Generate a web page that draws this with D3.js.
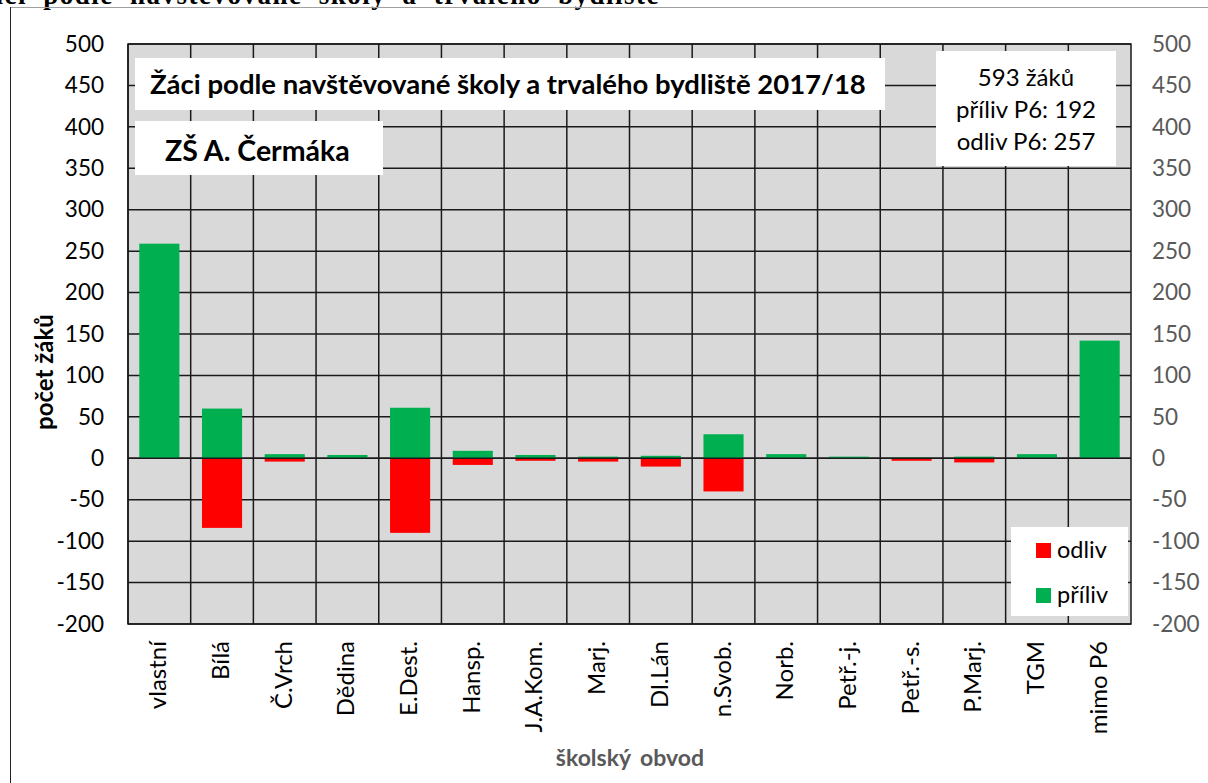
<!DOCTYPE html>
<html><head><meta charset="utf-8">
<script src="https://cdn.jsdelivr.net/npm/d3@7"></script>
<style>
html,body{margin:0;padding:0;background:#fff;}
svg{display:block;font-family:Lato,"Open Sans",sans-serif;}
</style></head>
<body>
<svg id="c" width="1208" height="783"></svg>
<script>
const categories = ["vlastní","Bílá","Č.Vrch","Dědina","E.Dest.","Hansp.","J.A.Kom.","Marj.","Dl.Lán","n.Svob.","Norb.","Petř.-j.","Petř.-s.","P.Marj.","TGM","mimo P6"];
const priliv = [259, 60, 5, 4, 61, 9, 4, 2, 3, 29, 5, 2, 1, 2, 5, 142];
const odliv  = [0, -84, -4, 0, -90, -8, -3, -4, -10, -40, 0, 0, -3, -5, 0, 0];
const yTicks = [500,450,400,350,300,250,200,150,100,50,0,-50,-100,-150,-200];
const seriesNames = ["odliv","příliv"];
const title = "Žáci podle navštěvované školy a trvalého bydliště 2017/18";
const subtitle = "ZŠ A. Čermáka";
const infoLines = ["593 žáků","příliv P6: 192","odliv P6: 257"];

const svg = d3.select("#c");
const L = 128, R = 1131, T = 44, B = 624;
const x = d3.scaleBand().domain(categories).range([L, R]).paddingInner(0.36).paddingOuter(0.18);
const y = d3.scaleLinear().domain([-200, 500]).range([B, T]);
const step = x.step();
const fmt = d => String(d).replace("\u2212", "-");

// page frame & cut-off heading
svg.append("text").attr("x", -30).attr("y", 4)
  .attr("font-family", "'Liberation Serif',serif").attr("font-weight", "bold")
  .attr("font-size", 27).attr("fill", "#000").attr("word-spacing", 8).attr("letter-spacing", 1.5)
  .text("Žáci podle navštěvované školy a trvalého bydliště");
svg.append("line").attr("x1", 10).attr("x2", 1208).attr("y1", 7.5).attr("y2", 7.5).attr("stroke", "#a0a0a0").attr("stroke-width", 1);
svg.append("line").attr("x1", 10.5).attr("x2", 10.5).attr("y1", 7).attr("y2", 783).attr("stroke", "#222").attr("stroke-width", 1);

// plot background
svg.append("rect").attr("x", L).attr("y", T).attr("width", R - L).attr("height", B - T).attr("fill", "#d9d9d9");

// horizontal grid
svg.append("g").selectAll("line").data(yTicks).join("line")
  .attr("x1", L).attr("x2", R).attr("y1", d => y(d)).attr("y2", d => y(d))
  .attr("stroke", "#1a1a1a").attr("stroke-width", 1.5);
// vertical grid at category boundaries
svg.append("g").selectAll("line").data(categories).join("line")
  .attr("x1", d => x(d) - (step - x.bandwidth()) / 2).attr("x2", d => x(d) - (step - x.bandwidth()) / 2)
  .attr("y1", T).attr("y2", B).attr("stroke", "#1a1a1a").attr("stroke-width", 1.5);
svg.append("rect").attr("x", L).attr("y", T).attr("width", R - L).attr("height", B - T)
  .attr("fill", "none").attr("stroke", "#1a1a1a").attr("stroke-width", 1.5);

// bars
svg.append("g").selectAll("rect").data(categories).join("rect")
  .attr("x", d => x(d)).attr("width", x.bandwidth())
  .attr("y", (d, i) => y(0)).attr("height", (d, i) => y(odliv[i]) - y(0))
  .attr("fill", "#ff0000");
svg.append("g").selectAll("rect").data(categories).join("rect")
  .attr("x", d => x(d)).attr("width", x.bandwidth())
  .attr("y", (d, i) => y(priliv[i])).attr("height", (d, i) => y(0) - y(priliv[i]))
  .attr("fill", "#00b050");
// zero line on top
svg.append("line").attr("x1", L).attr("x2", R).attr("y1", y(0)).attr("y2", y(0)).attr("stroke", "#1a1a1a").attr("stroke-width", 1.5);

// axes
const yl = svg.append("g").attr("transform", `translate(${L},0)`)
  .call(d3.axisLeft(y).tickValues(yTicks).tickSize(0).tickPadding(24).tickFormat(fmt));
yl.select(".domain").remove();
yl.selectAll("text").attr("font-size", 22.5).attr("fill", "#000").attr("font-family", "Lato,sans-serif");
const yr = svg.append("g").attr("transform", `translate(${R},0)`)
  .call(d3.axisRight(y).tickValues(yTicks).tickSize(0).tickPadding(21).tickFormat(fmt));
yr.select(".domain").remove();
yr.selectAll("text").attr("font-size", 22.5).attr("fill", "#595959").attr("font-family", "Lato,sans-serif");

const xa = svg.append("g").attr("transform", `translate(0,${B})`)
  .call(d3.axisBottom(x).tickSize(0).tickPadding(0));
xa.select(".domain").remove();
xa.selectAll("text").attr("font-size", 24).attr("fill", "#000").attr("font-family", "Lato,sans-serif")
  .attr("text-anchor", "end").attr("dy", null).attr("y", 0)
  .attr("transform", "translate(7,17) rotate(-90)");

// axis titles
svg.append("text").attr("transform", "translate(53,372) rotate(-90)").attr("text-anchor", "middle")
  .attr("font-size", 24).attr("font-weight", "bold").attr("fill", "#000").text("počet žáků");
svg.append("text").attr("x", 630).attr("y", 766).attr("text-anchor", "middle")
  .attr("font-size", 23).attr("font-weight", "bold").attr("fill", "#595959").attr("word-spacing", 4).text("školský obvod");

// title boxes
svg.append("rect").attr("x", 135).attr("y", 58).attr("width", 750).attr("height", 52).attr("fill", "#fff");
svg.append("text").attr("x", 150).attr("y", 94).attr("font-size", 27.5).attr("font-weight", "bold").attr("fill", "#000").text(title);
svg.append("rect").attr("x", 135).attr("y", 121).attr("width", 248).attr("height", 54).attr("fill", "#fff");
svg.append("text").attr("x", 165).attr("y", 161).attr("font-size", 28.5).attr("font-weight", "bold").attr("fill", "#000").text(subtitle);

// info box
svg.append("rect").attr("x", 936).attr("y", 51).attr("width", 180).attr("height", 115).attr("fill", "#fff");
svg.append("g").selectAll("text").data(infoLines).join("text")
  .attr("x", 1026).attr("y", (d, i) => 86 + i * 32).attr("text-anchor", "middle")
  .attr("font-size", 24).attr("fill", "#000").text(d => d);

// legend
const colors = {"odliv": "#ff0000", "příliv": "#00b050"};
svg.append("rect").attr("x", 1011).attr("y", 527).attr("width", 117).attr("height", 89).attr("fill", "#fff");
const lg = svg.append("g").selectAll("g").data(seriesNames).join("g")
  .attr("transform", (d, i) => `translate(1036,${543 + i * 45})`);
lg.append("rect").attr("width", 15).attr("height", 15).attr("fill", d => colors[d]);
lg.append("text").attr("x", 21).attr("y", 15).attr("font-size", 23.5).attr("fill", "#000").text(d => d);
</script>
</body></html>
